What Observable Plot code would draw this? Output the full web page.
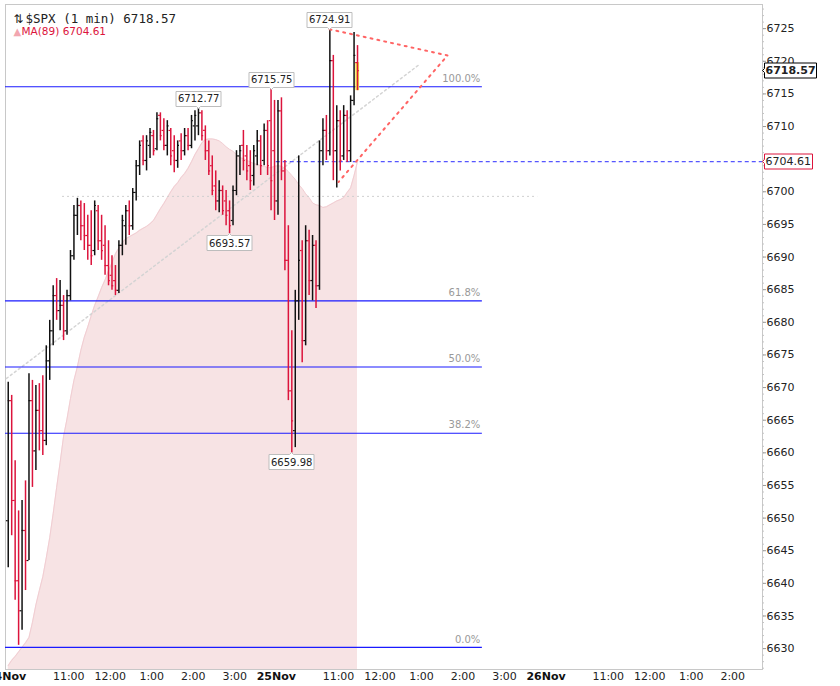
<!DOCTYPE html>
<html><head><meta charset="utf-8">
<script src="https://cdn.jsdelivr.net/npm/d3@7"></script>
<script src="https://cdn.jsdelivr.net/npm/@observablehq/plot@0.6"></script>
<style>body{margin:0;background:#fff;} #chart svg{display:block;}</style>
</head><body><div id="chart"></div>
<script>
// 5-minute bars (Nov 24 full session, Nov 25 until ~11:27)
const opens = [
6649.6,6668.0,6652.7,6640.4,6635.8,6648.1,6643.5,6668.0,6660.3,6666.5,
6663.4,6661.9,6674.1,6678.7,6684.1,6681.8,6682.6,6678.7,6684.1,6690.2,
6696.4,6697.9,6694.8,6693.3,6691.8,6691.0,6697.1,6692.5,6691.8,6688.7,
6687.2,6686.4,6684.9,6691.8,6694.8,6697.1,6694.8,6699.9,6704.0,6707.8,
6704.8,6707.1,6708.6,6706.6,6711.7,6709.4,6707.1,6709.4,6706.3,6704.8,
6707.8,6706.3,6708.6,6707.1,6710.1,6710.1,6712.1,6709.4,6706.3,6704.0,
6700.9,6698.6,6700.2,6698.6,6697.1,6695.6,6700.2,6705.5,6707.1,6705.5,
6704.0,6702.5,6705.5,6707.8,6704.8,6709.4,6710.9,6706.3,
6698.6,6712.4,6703.2,6689.5,6669.5,6663.4,6683.3,6691.0,6677.2,6692.5,
6686.4,6691.8,6685.6,6706.3,6709.4,6706.3,6720.1,6706.3,6710.9,6705.5,
6711.7,6706.3,6714.0,6719.8];
const highs = [
6670.8,6668.8,6658.8,6651.1,6652.7,6655.7,6672.1,6671.1,6670.3,6670.6,
6671.8,6676.4,6680.3,6685.6,6686.7,6686.4,6684.1,6684.9,6691.0,6697.9,
6699.0,6698.6,6698.2,6696.4,6697.1,6698.6,6697.9,6696.4,6694.8,6692.5,
6690.2,6688.7,6692.5,6696.4,6697.9,6698.6,6700.5,6704.8,6707.8,6708.6,
6708.6,6709.7,6709.4,6712.1,6712.1,6711.2,6710.9,6709.7,6708.6,6707.8,
6708.9,6709.7,6709.7,6711.7,6712.4,6712.77,6712.4,6710.1,6707.8,6705.5,
6703.2,6701.7,6700.9,6700.2,6698.6,6700.9,6706.3,6707.1,6709.4,6707.1,
6706.3,6707.1,6709.4,6708.6,6710.4,6710.9,6715.75,6714.0,
6714.0,6714.4,6704.8,6694.8,6678.7,6684.9,6705.5,6692.5,6694.8,6694.1,
6693.3,6692.5,6707.8,6711.2,6711.7,6724.91,6720.9,6713.2,6712.4,6713.2,
6712.4,6714.7,6724.4,6722.4];
const lows = [
6642.4,6647.3,6637.4,6630.5,6632.8,6638.9,6643.5,6654.7,6657.3,6660.3,
6659.6,6661.1,6671.1,6676.4,6680.3,6678.7,6677.2,6678.0,6683.3,6689.5,
6693.3,6692.5,6691.0,6689.5,6688.7,6690.2,6691.0,6689.5,6687.2,6685.6,
6684.9,6684.1,6684.4,6690.2,6691.8,6693.3,6694.1,6698.6,6702.5,6704.0,
6703.2,6705.1,6705.5,6706.3,6707.8,6706.3,6705.5,6704.0,6702.9,6703.6,
6704.8,6705.5,6706.3,6706.6,6707.8,6708.6,6707.8,6704.8,6702.5,6699.4,
6697.1,6696.8,6696.4,6694.8,6693.57,6694.8,6699.4,6702.5,6703.2,6701.7,
6700.2,6700.9,6704.0,6702.5,6704.0,6702.5,6697.1,6695.6,
6696.4,6701.7,6687.9,6668.0,6659.98,6660.8,6680.3,6673.8,6676.4,6684.1,
6683.3,6682.1,6684.9,6704.0,6704.8,6705.5,6701.7,6700.6,6703.2,6704.8,
6704.5,6704.5,6713.2,6715.5];
const closes = [
6668.0,6652.7,6640.4,6635.8,6648.1,6643.5,6668.0,6660.3,6666.5,6663.4,
6661.9,6674.1,6678.7,6684.1,6681.8,6682.6,6678.7,6684.1,6690.2,6696.4,
6697.9,6694.8,6693.3,6691.8,6690.2,6697.9,6692.5,6691.0,6688.7,6686.4,
6685.6,6684.9,6691.8,6695.6,6697.1,6694.8,6699.9,6704.0,6707.1,6704.8,
6707.8,6709.1,6706.3,6711.2,6708.6,6707.1,6710.1,6705.5,6704.8,6707.1,
6706.3,6708.6,6707.1,6710.9,6711.7,6712.1,6708.6,6706.3,6703.2,6700.2,
6698.6,6700.2,6697.1,6696.4,6694.8,6700.2,6705.5,6706.3,6704.8,6703.2,
6701.7,6706.3,6707.8,6704.0,6709.4,6704.0,6701.7,6698.6,
6712.4,6703.2,6689.5,6669.5,6664.9,6683.3,6689.5,6677.2,6692.5,6686.4,
6691.8,6685.6,6706.3,6709.4,6706.3,6720.1,6706.3,6710.9,6704.8,6711.7,
6706.3,6714.0,6720.9,6718.57];
const ma89 = [
6627.4,6628.2,6628.8,6629.5,6630.2,6630.9,6631.7,6634.0,6636.7,6638.9,
6641.0,6643.9,6647.0,6650.7,6654.7,6658.5,6662.5,6665.2,6668.3,6671.1,
6673.2,6675.7,6677.7,6679.3,6681.0,6682.6,6683.9,6685.3,6686.5,6687.9,
6689.1,6690.5,6691.4,6692.2,6692.8,6693.1,6693.4,6693.7,6694.1,6694.4,
6694.7,6695.1,6695.6,6696.5,6697.4,6698.2,6699.1,6700.0,6700.8,6701.4,
6702.2,6702.8,6703.6,6704.6,6705.7,6706.6,6707.5,6708.0,6708.1,6708.1,
6708.0,6707.8,6707.4,6706.9,6706.5,6706.2,6705.7,6705.2,6705.1,6704.8,
6704.6,6704.3,6704.2,6704.0,6703.9,6703.7,6703.7,6703.9,6704.0,6703.9,
6703.6,6703.1,6702.5,6701.9,6701.1,6700.5,6699.7,6699.1,6698.3,6698.0,
6697.9,6697.6,6697.7,6698.0,6698.3,6698.6,6698.8,6699.1,6699.9,6700.6,
6702.5,6704.61];

// x positions are trading minutes since the Nov 24 open (390 per session)
const timeTicks = [90,150,210,270,330,480,540,600,660,720,870,930,990,1050];
const timeLabels = ["11:00","12:00","1:00","2:00","3:00","11:00","12:00","1:00","2:00","3:00","11:00","12:00","1:00","2:00"];
const dateTicks = [0,390,780];
const dateLabels = ["24Nov","25Nov","26Nov"];
// 6705 is hidden behind the MA price box in the reference
const yTicks = [6630,6635,6640,6645,6650,6655,6660,6665,6670,6675,6680,6685,6690,6695,6700,6710,6715,6720,6725];

const fibPrices = [6716.1,6683.3,6673.15,6663.0,6630.2];
const fibLabels = ["100.0%","61.8%","50.0%","38.2%","0.0%"];
const fibEnd = 688;

const peakTimes = [467.5,382.5,277.5];
const peakPrices = [6724.91,6715.75,6712.77];
const troughTimes = [322.5,412.5];
const troughPrices = [6693.57,6659.98];

const lastPrice = 6718.57;
const lastMA = 6704.61;

const trendTimes = [0,598];
const trendPrices = [6671.4,6719.6];
const levelTimes = [81,768];
const levelPrice = 6699.3;
const triTimes = [467,637.6,480];
const triPrices = [6724.91,6720.9,6701.5];

const bars = opens.map((o,i) => ({t: i*5 + 2.5, o, h: highs[i], l: lows[i], c: closes[i], ma: ma89[i]}));
const barColor = d => d.c >= d.o ? "#111" : "#dc143c";
const last = bars[bars.length-1];

const xMin = -1.45, xMax = 1093;
const yMin = 6626.8, yMax = 6728.7;
const minorTicks = d3.range(6627, 6729, 1);

const chart = Plot.plot({
  width: 840, height: 686,
  marginLeft: 5, marginRight: 78, marginTop: 4, marginBottom: 17,
  x: {domain: [xMin, xMax], axis: null},
  y: {domain: [yMin, yMax], axis: null},
  color: {type: "identity"},
  style: {fontFamily: "DejaVu Sans", fontSize: "11px", background: "white", color: "#222"},
  marks: [
    Plot.areaY(bars, {x: "t", y1: yMin, y2: "ma", fill: "#f7e3e4", clip: true}),
    Plot.lineY(bars, {x: "t", y: "ma", stroke: "#f1cdd2", strokeWidth: 1, clip: true}),
    Plot.frame({stroke: "#c8c8c8"}),
    // minor ticks on the price axis
    Plot.ruleY(minorTicks, {y: d => d, x1: xMax, x2: xMax, insetRight: -2, stroke: "#c4c4c4"}),
    Plot.axisY({anchor: "right", ticks: yTicks, tickSize: 3, tickPadding: 1, tickFormat: d => String(d), fill: "#222", stroke: "#999", fontSize: 11}),
    // guides
    Plot.ruleY([levelPrice], {x1: levelTimes[0], x2: levelTimes[1], stroke: "#cfcfcf", strokeDasharray: "2,3"}),
    Plot.line(trendTimes.map((t,i) => [t, trendPrices[i]]), {stroke: "#d4d4d4", strokeDasharray: "2,3"}),
    Plot.ruleY(fibPrices, {y: d => d, x1: xMin, x2: fibEnd, stroke: "#1a1aff", strokeWidth: 1.2}),
    Plot.text(fibPrices, {y: d => d, x: fibEnd - 3, text: (d,i) => fibLabels[i], textAnchor: "end", dy: -8, fill: "#999", fontSize: 10}),
    Plot.ruleY([lastMA], {x1: 390, x2: xMax, stroke: "#2b2bff", strokeDasharray: "4,3"}),
    // current bar highlight
    Plot.rect([last], {x1: d => d.t - 2.4, x2: d => d.t + 3, y1: "l", y2: "o", fill: "#f4e84a"}),
    // OHLC bars
    Plot.ruleX(bars, {x: "t", y1: "l", y2: "h", stroke: barColor, strokeWidth: 1.5}),
    Plot.ruleY(bars, {y: "o", x1: d => d.t - 2.6, x2: "t", stroke: barColor, strokeWidth: 1.2}),
    Plot.ruleY(bars, {y: "c", x1: "t", x2: d => d.t + 2.6, stroke: barColor, strokeWidth: 1.2}),
    // red dotted triangle
    Plot.line(triTimes.map((t,i) => [t, triPrices[i]]), {stroke: "#ff6464", strokeWidth: 2, strokeDasharray: "2,5"}),
    // labels
    Plot.tip(peakPrices, {x: (d,i) => peakTimes[i], y: d => d, title: d => d.toFixed(2), anchor: "bottom", fill: "white", stroke: "#bdbdbd", pathFilter: "none", pointerSize: 4, textPadding: 2, fontSize: 10, fontFamily: "DejaVu Sans"}),
    Plot.tip(troughPrices, {x: (d,i) => troughTimes[i], y: d => d, title: d => d.toFixed(2), anchor: "top", fill: "white", stroke: "#bdbdbd", pathFilter: "none", pointerSize: 4, textPadding: 2, fontSize: 10, fontFamily: "DejaVu Sans"}),
    Plot.tip([lastPrice], {y: d => d, frameAnchor: "right", title: d => d.toFixed(2), anchor: "left", fill: "white", stroke: "#000", pathFilter: "none", pointerSize: 4, textPadding: 1, fontSize: 11, fontWeight: "bold", fontFamily: "DejaVu Sans"}),
    Plot.tip([lastMA], {y: d => d, frameAnchor: "right", title: d => d.toFixed(2), anchor: "left", fill: "white", stroke: "#dc143c", pathFilter: "none", pointerSize: 4, textPadding: 1, fontSize: 11, fontFamily: "DejaVu Sans"}),
    // x axis labels
    Plot.text(timeTicks, {x: d => d, text: (d,i) => timeLabels[i], frameAnchor: "bottom", dy: 10, fill: "#222", fontSize: 11}),
    Plot.text(dateTicks, {x: d => d, text: (d,i) => dateLabels[i], frameAnchor: "bottom", dy: 10, fill: "#111", fontSize: 11, fontWeight: "bold"}),
    // legend
    Plot.text(["⇅"], {frameAnchor: "top-left", dx: 8, dy: 10, fill: "#222", fontSize: 12}),
    Plot.text(["$SPX (1 min) " + lastPrice.toFixed(2)], {frameAnchor: "top-left", dx: 20, dy: 10, textAnchor: "start", fill: "#222", fontSize: 12.5, fontFamily: "DejaVu Sans Mono"}),
    Plot.text(["▲"], {frameAnchor: "top-left", dx: 8, dy: 23, fill: "#f2a6b0", fontSize: 10}),
    Plot.text(["MA(89) " + lastMA.toFixed(2)], {frameAnchor: "top-left", dx: 16, dy: 23.5, textAnchor: "start", fill: "#dc143c", fontSize: 10.5})
  ]
});
document.getElementById("chart").appendChild(chart);
</script>
</body></html>
